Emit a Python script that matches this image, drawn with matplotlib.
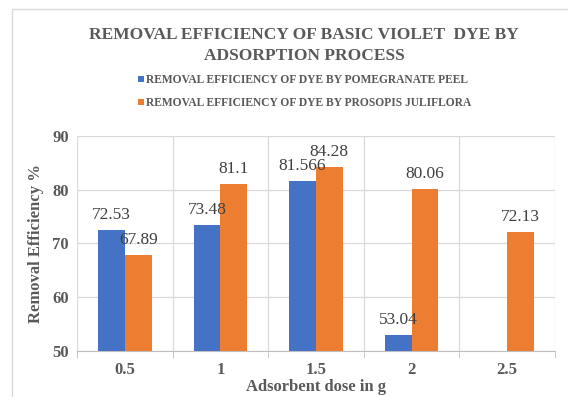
import matplotlib
matplotlib.use('Agg')
import matplotlib.pyplot as plt
import numpy as np
from matplotlib.patches import Rectangle

doses = ['0.5', '1', '1.5', '2', '2.5']
pomegranate = [72.53, 73.48, 81.566, 53.04, np.nan]
prosopis = [67.89, 81.1, 84.28, 80.06, 72.13]
pom_labels = ['72.53', '73.48', '81.566', '53.04', '']
pros_labels = ['67.89', '81.1', '84.28', '80.06', '72.13']

serif = 'Liberation Serif'
gray = '#595959'

fig = plt.figure(figsize=(5.68, 3.97), dpi=100)
ax = fig.add_axes([0.1356, 0.1159, 0.977 - 0.1356, 0.6574 - 0.1159])

x = np.arange(len(doses))
w = 0.28
b1 = ax.bar(x - w / 2, [v - 50 for v in pomegranate], w, bottom=50, color='#4472C4',
            label='REMOVAL EFFICIENCY OF DYE BY POMEGRANATE PEEL', zorder=3)
b2 = ax.bar(x + w / 2, [v - 50 for v in prosopis], w, bottom=50, color='#ED7D31',
            label='REMOVAL EFFICIENCY OF DYE BY PROSOPIS JULIFLORA', zorder=3)

for xi, v, t in zip(x - w / 2, pomegranate, pom_labels):
    if t:
        ax.text(xi, v + 1.3, t, ha='center', va='bottom', fontsize=12.5,
                family=serif, color='#404040', zorder=4)
for xi, v, t in zip(x + w / 2, prosopis, pros_labels):
    ax.text(xi, v + 1.3, t, ha='center', va='bottom', fontsize=12.5,
            family=serif, color='#404040', zorder=4)

ax.set_ylim(50, 90)
ax.set_xlim(-0.5, len(doses) - 0.5)
ax.set_yticks([50, 60, 70, 80, 90])
ax.set_xticks(x)
ax.set_xticklabels(doses)
ax.set_xticks(np.arange(-0.5, len(doses)), minor=True)
ax.tick_params(axis='x', which='major', length=0, pad=8)
ax.tick_params(axis='x', which='minor', length=5, color='#bfbfbf')
ax.tick_params(axis='y', length=0, pad=6)
for lab in ax.get_xticklabels() + ax.get_yticklabels():
    lab.set_family(serif)
    lab.set_fontweight('bold')
    lab.set_fontsize(12)
    lab.set_color(gray)
ax.grid(axis='y', color='#d9d9d9', lw=0.9, zorder=0)
ax.grid(axis='x', which='minor', color='#d9d9d9', lw=0.9, zorder=0)
for s in ['top', 'right', 'left']:
    ax.spines[s].set_visible(False)
ax.spines['bottom'].set_color('#bfbfbf')

ax.set_ylabel('Removal Efficiency %', family=serif, fontweight='bold', fontsize=12,
              color=gray, labelpad=6)
ax.set_xlabel('Adsorbent dose in g', family=serif, fontweight='bold', fontsize=12,
              color=gray, labelpad=1)

fig.text(0.535, 0.885, 'REMOVAL EFFICIENCY OF BASIC VIOLET  DYE BY\nADSORPTION PROCESS',
         ha='center', va='center', family=serif, fontweight='bold', fontsize=12.5,
         color=gray, linespacing=1.45)

fig.legend(handles=[b1, b2], loc='upper left', bbox_to_anchor=(0.235, 0.825),
           frameon=False, prop={'family': serif, 'weight': 'bold', 'size': 8.3},
           labelcolor=gray, handlelength=0.5, handleheight=0.5, handletextpad=0.2,
           labelspacing=0.95, borderaxespad=0)

fig.patches.append(Rectangle((12 / 568, -0.1), 1.2, 1 - 9 / 397 + 0.1,
                             transform=fig.transFigure, fill=False,
                             edgecolor='#d9d9d9', lw=1))

fig.savefig('out.png', dpi=100)
